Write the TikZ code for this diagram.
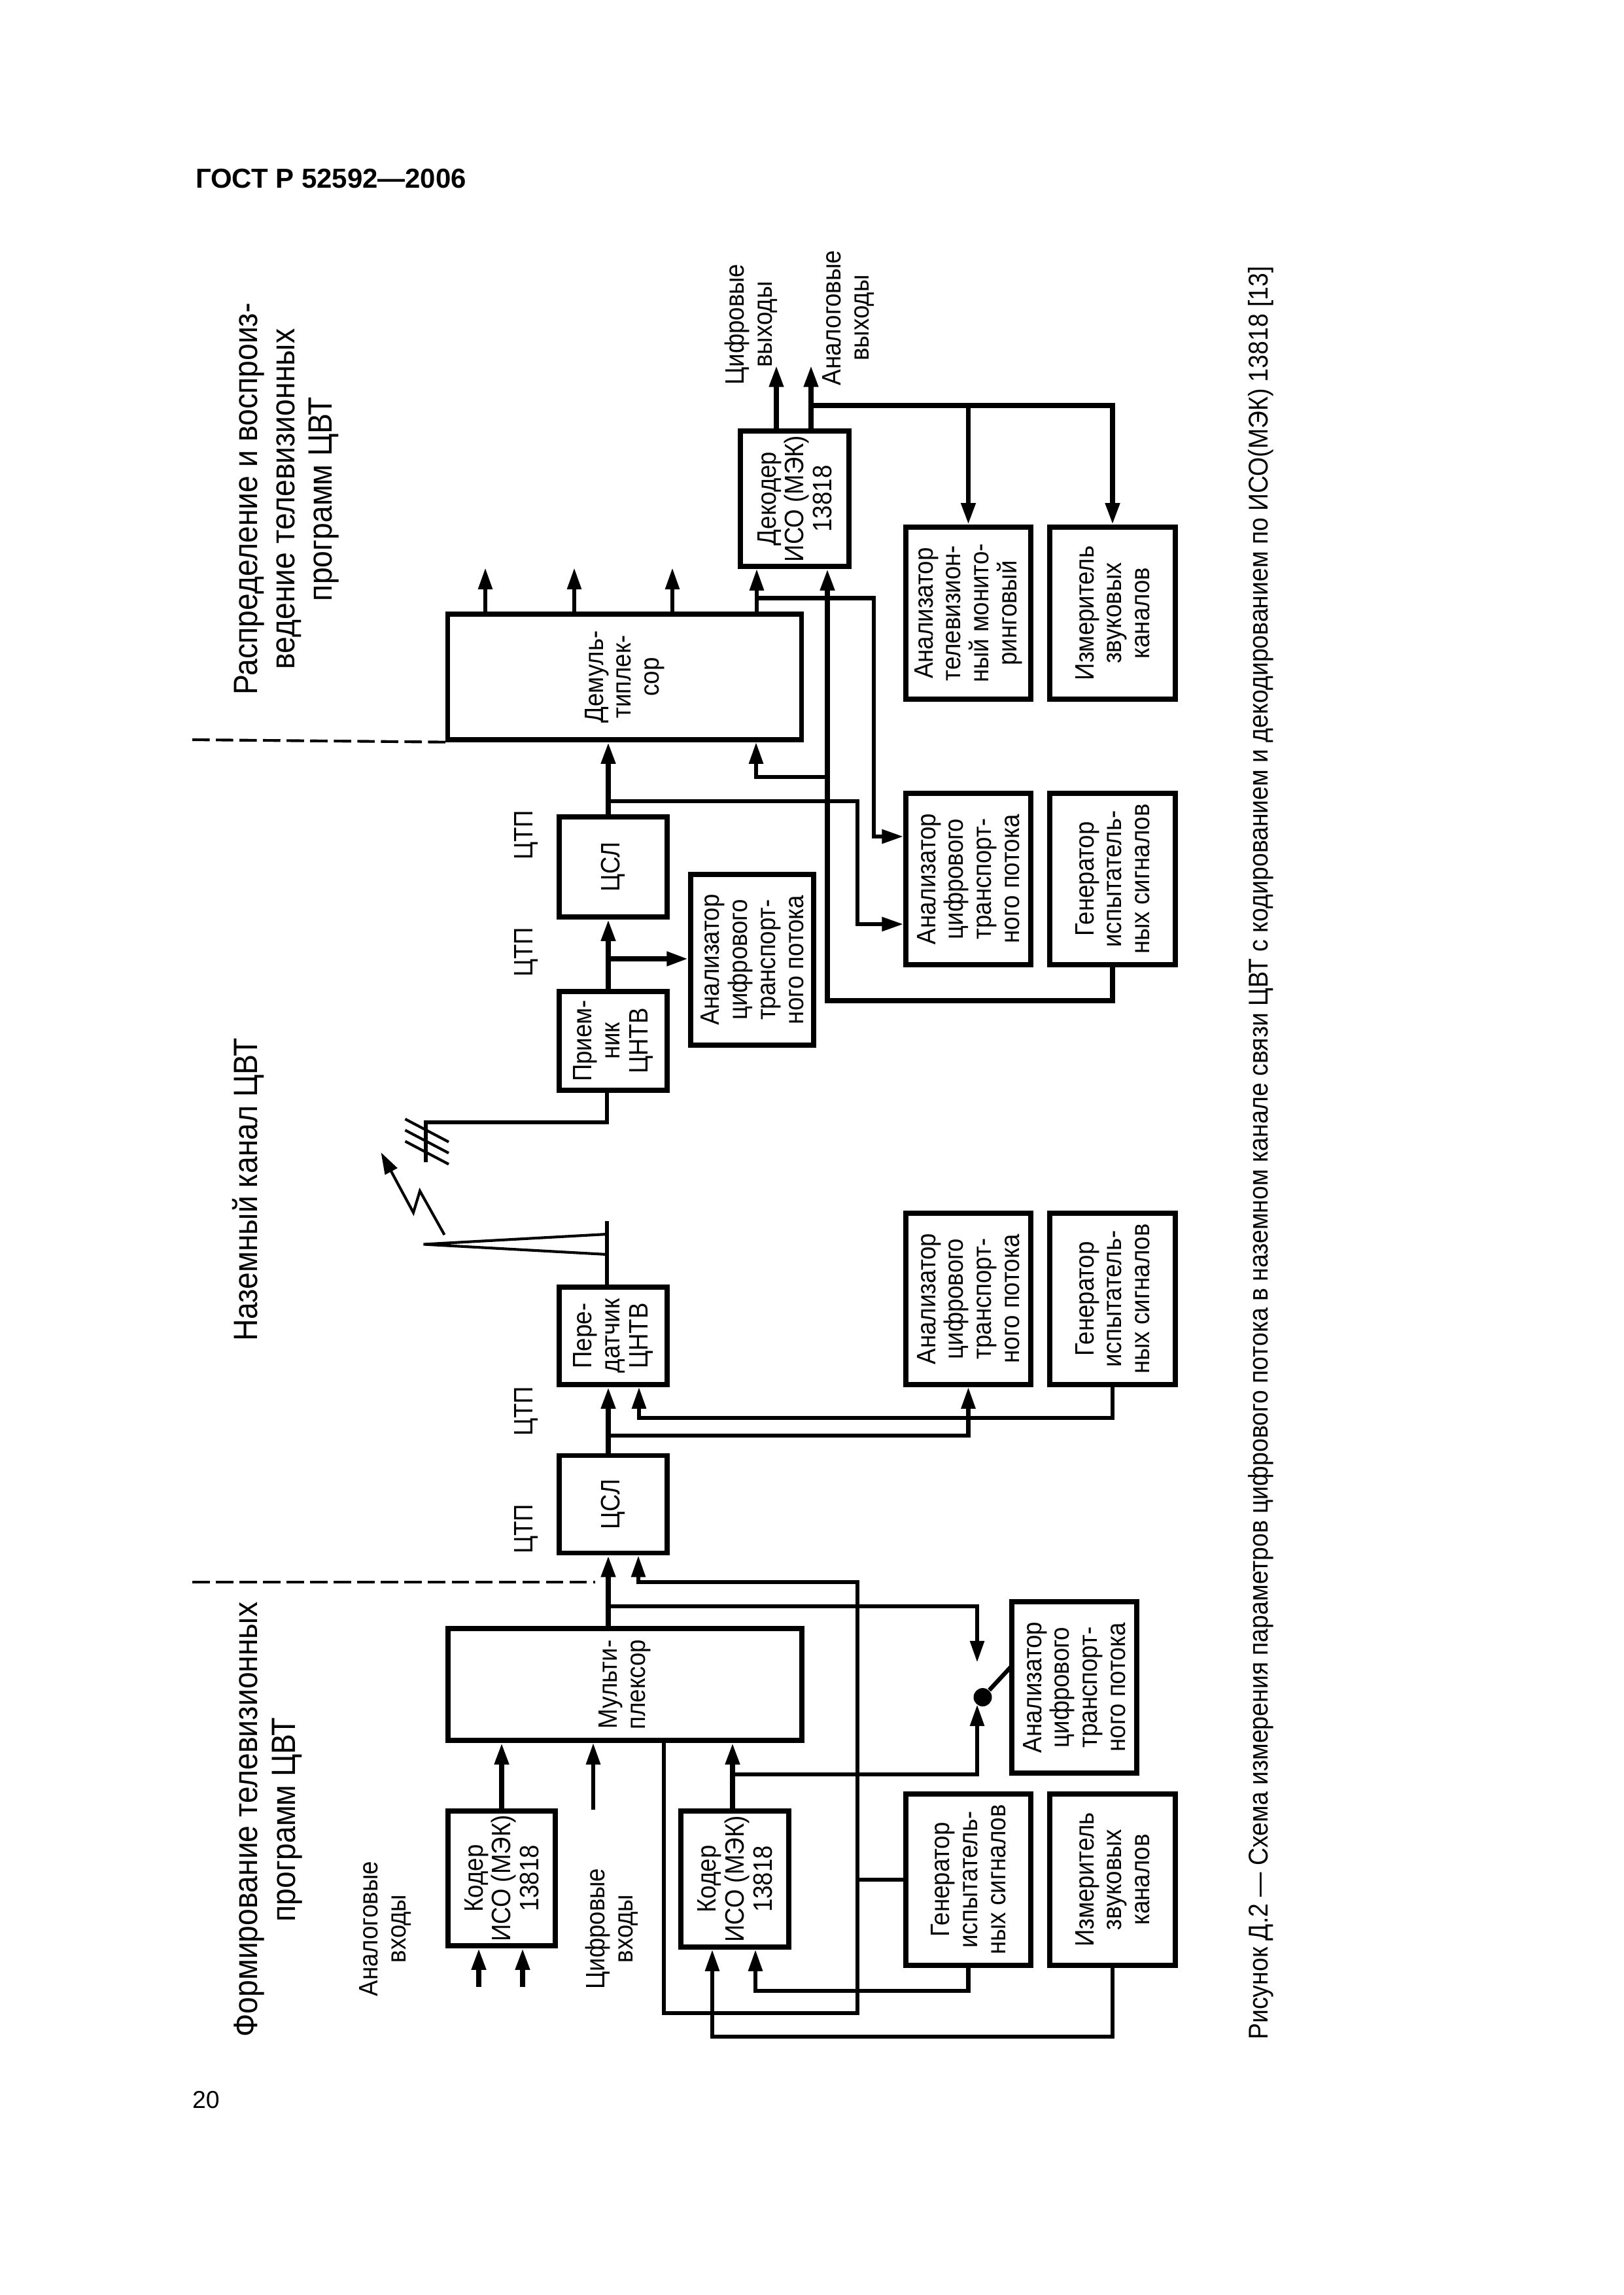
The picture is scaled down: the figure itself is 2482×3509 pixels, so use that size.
\documentclass[tikz,border=0pt]{standalone}
\usepackage{fontspec}
\setmainfont{Liberation Sans}
\newfontfamily\rotfont[FakeStretch=0.9]{Liberation Sans}
\usetikzlibrary{arrows.meta}
\def\ux{0.08461mm}
\tikzset{blk/.style 2 args={draw=black,line width=.62mm,rotate=90,align=center,inner sep=1pt,
  minimum width=#1*\ux,minimum height=#2*\ux,font=\rotfont\fontsize{9.8}{10.3}\selectfont}}
\tikzstyle{wire}=[line width=.55mm]
\tikzstyle{heavy}=[line width=.66mm]
\tikzstyle{thinw}=[line width=.35mm]
\tikzstyle{arr}=[wire,-{Triangle[length=2.8mm,width=1.75mm]}]
\tikzstyle{harr}=[heavy,-{Triangle[length=2.8mm,width=1.75mm]}]
\tikzstyle{bound}=[line width=.35mm,dash pattern=on 2.25mm off .8mm]
\tikzstyle{lbl}=[rotate=90,align=center,inner sep=0pt,font=\rotfont\fontsize{9.8}{10.3}\selectfont]
\tikzstyle{ttl}=[rotate=90,align=center,inner sep=0pt,font=\rotfont\fontsize{12.4}{13.8}\selectfont]
\begin{document}
\begin{tikzpicture}[x=\ux,y=-\ux]
\useasboundingbox (0,0) rectangle (2482,3509);
\node[inner sep=0pt,font=\bfseries\fontsize{10.1}{12}\selectfont] (hdr) at (506,273) {ГОСТ Р 52592—2006};
\node[inner sep=0pt,font=\fontsize{9}{11}\selectfont] (pg) at (315,3211) {20};
\node[lbl,font=\rotfont\fontsize{10}{12}\selectfont] (cap) at (1928,1763) {Рисунок Д.2 — Схема измерения параметров цифрового потока в наземном канале связи ЦВТ с кодированием и декодированием по ИСО(МЭК) 13818 [13]};
\node[ttl] (form) at (410,2782) {Формирование телевизионных\\программ ЦВТ};
\node[ttl] (naz) at (380,1819) {Наземный канал ЦВТ};
\node[ttl] (dist) at (438,763) {Распределение и воспроиз-\\ведение телевизионных\\программ ЦВТ};
\node[lbl] (anin) at (589,2949) {Аналоговые\\входы};
\node[lbl] (dgin) at (935,2949) {Цифровые\\входы};
\node[lbl] (dgout) at (1148,496) {Цифровые\\выходы};
\node[lbl] (anout) at (1297,486) {Аналоговые\\выходы};
\node[lbl] (ts1) at (805,2338) {ЦТП};
\node[lbl] (ts2) at (805,2158) {ЦТП};
\node[lbl] (ts3) at (805,1456) {ЦТП};
\node[lbl] (ts4) at (805,1277) {ЦТП};
% formirovanie
\node[blk={206}{164}] (coder1) at (767,2872) {Кодер\\ИСО (МЭК)\\13818};
\node[blk={208}{165}] (coder2) at (1123.5,2873) {Кодер\\ИСО (МЭК)\\13818};
\node[blk={171}{541}] (mux) at (955.5,2575.5) {Мульти-\\плексор};
\node[blk={262}{191}] (an1) at (1642.5,2580) {Анализатор\\цифрового\\транспорт-\\ного потока};
\node[blk={262}{191}] (gen1) at (1480.5,2874) {Генератор\\испытатель-\\ных сигналов};
\node[blk={262}{192}] (meas1) at (1701,2874) {Измеритель\\звуковых\\каналов};
% kanal
\node[blk={149}{165}] (csl1) at (937.5,2300) {ЦСЛ};
\node[blk={149}{165}] (pd) at (937.5,2042.5) {Пере-\\датчик\\ЦНТВ};
\node[blk={151}{165}] (pm) at (937.5,1591.5) {Прием-\\ник\\ЦНТВ};
\node[blk={153}{165}] (csl2) at (937.5,1325.5) {ЦСЛ};
\node[blk={262}{191}] (an2) at (1480.5,1986) {Анализатор\\цифрового\\транспорт-\\ного потока};
\node[blk={262}{192}] (gen2) at (1701,1986) {Генератор\\испытатель-\\ных сигналов};
\node[blk={261}{188}] (an3) at (1150,1467.5) {Анализатор\\цифрового\\транспорт-\\ного потока};
% raspredelenie
\node[blk={192}{541}] (demux) at (955,1035) {Демуль-\\типлек-\\сор};
\node[blk={207}{166}] (dec) at (1215,762.5) {Декодер\\ИСО (МЭК)\\13818};
\node[blk={262}{191}] (an4) at (1480.5,1344) {Анализатор\\цифрового\\транспорт-\\ного потока};
\node[blk={262}{192}] (gen3) at (1701,1344) {Генератор\\испытатель-\\ных сигналов};
\node[blk={263}{191}] (antv) at (1480.5,937.5) {Анализатор\\телевизион-\\ный монито-\\ринговый};
\node[blk={263}{192}] (meas2) at (1701,937.5) {Измеритель\\звуковых\\каналов};
% points of the lines
\coordinate (tapA) at (930,2456);
\coordinate (tapB) at (930,2195);
\coordinate (tapC) at (930,1466);
\coordinate (tapD) at (930,1225);
\coordinate (tapE) at (1311,1413);
\coordinate (swup) at (1494,2542);
\coordinate (swdn) at (1494,2606);
\coordinate (swk) at (1547,2547);
\coordinate (lpA) at (1015,3078);
\coordinate (lpB) at (1311,2419);
\coordinate (lpC) at (976,2419);
\coordinate (gnA) at (1155,3044);
\coordinate (msA) at (1089,3114);
\coordinate (c2t) at (1120,2713);
\coordinate (c1a) at (732,3038);
\coordinate (c1b) at (799,3038);
\coordinate (dg) at (907,2767);
\coordinate (gnB) at (977,2168);
\coordinate (gnC) at (1265,1530);
\coordinate (gnD) at (1265,1188);
\coordinate (gnE) at (1156,1188);
\coordinate (dmA) at (1157,914.5);
\coordinate (dmB) at (1336,1279);
\coordinate (dcA) at (1187,558.6);
\coordinate (dcB) at (1240,558.6);
\coordinate (dcC) at (1240,620);
\coordinate (dsA) at (294,2419);
\coordinate (dsB) at (910,2419);
\coordinate (dsC) at (294,1131);
% boundaries
\draw[bound] (dsA) -- (dsB);
\draw[bound] (dsC) -- (demux.north west);
% formirovanie
\draw[harr] (c1a) -- (c1a |- coder1.west);
\draw[harr] (c1b) -- (c1b |- coder1.west);
\draw[harr] (coder1.east) -- (coder1.east |- mux.west);
\draw[arr] (dg) -- (dg |- mux.west);
\draw[harr] (c2t |- coder2.east) -- (c2t |- mux.west);
\draw[arr] (c2t) -| (swdn);
\draw[arr] (tapA) -| (swup);
\draw[harr] (tapA |- mux.east) -- (tapA |- csl1.west);
\draw[arr] (lpA |- mux.west) -- (lpA) -| (lpB) -- (lpC) -- (lpC |- csl1.west);
\draw[wire] (gen1.north) -- (gen1.north -| lpB);
\draw[arr] (gen1.west) |- (gnA) -- (gnA |- coder2.west);
\draw[arr] (meas1.west) |- (msA) -- (msA |- coder2.west);
\node[circle,fill=black,inner sep=0pt,minimum size=28*\ux] (sw) at (1502.5,2595) {};
\draw[wire] (sw) -- (swk);
% kanal
\draw[harr] (tapA |- csl1.east) -- (tapA |- pd.west);
\draw[arr] (tapB) -| (an2.west);
\draw[arr] (gen2.west) |- (gnB) -- (gnB |- pd.west);
\coordinate (atA) at (928,1867);
\coordinate (atB) at (928,1887);
\coordinate (atC) at (647.5,1902.5);
\coordinate (atD) at (928,1918);
\draw[wire] (atA |- pd.east) -- (atA);
\draw[thinw] (atB) -- (atC) -- (atD);
\coordinate (ltA) at (679.5,1888);
\coordinate (ltB) at (642,1821);
\coordinate (ltC) at (632,1854);
\coordinate (ltD) at (582.5,1762);
\draw[thinw,-{Triangle[length=2.8mm,width=1.75mm]}] (ltA) -- (ltB) -- (ltC) -- (ltD);
\coordinate (rxA) at (928,1716);
\coordinate (rxB) at (651,1716);
\coordinate (rxC) at (651,1777);
\draw[wire] (rxA |- pm.west) -- (rxA) -- (rxB) -- (rxC);
\foreach \t in {1711,1728,1745}
  \draw[thinw] (619.5,\t) -- ++(66.5,35);
\draw[harr] (tapA |- pm.east) -- (tapA |- csl2.west);
\draw[harr] (tapC) -- (tapC -| an3.north);
% raspredelenie
\draw[harr] (tapA |- csl2.east) -- (tapA |- demux.west);
\draw[arr] (tapD) -| (tapE) -- (tapE -| an4.north);
\draw[harr] (gen3.west) |- (gnC) -- (gnC |- dec.west);
\draw[arr] (gnD) -- (gnE) -- (gnE |- demux.west);
\foreach \o in {742,878,1028} {
  \coordinate (op) at (\o,868);
  \draw[arr] (op |- demux.east) -- (op);
}
\draw[arr] (dmA |- demux.east) -- (dmA |- dec.west);
\draw[arr] (dmA) -| (dmB) -- (dmB -| an4.north);
\draw[harr] (dcA |- dec.east) -- (dcA);
\draw[harr] (dcB |- dec.east) -- (dcB);
\draw[harr] (dcC) -| (antv.east);
\draw[harr] (dcC) -| (meas2.east);
\end{tikzpicture}
\end{document}
